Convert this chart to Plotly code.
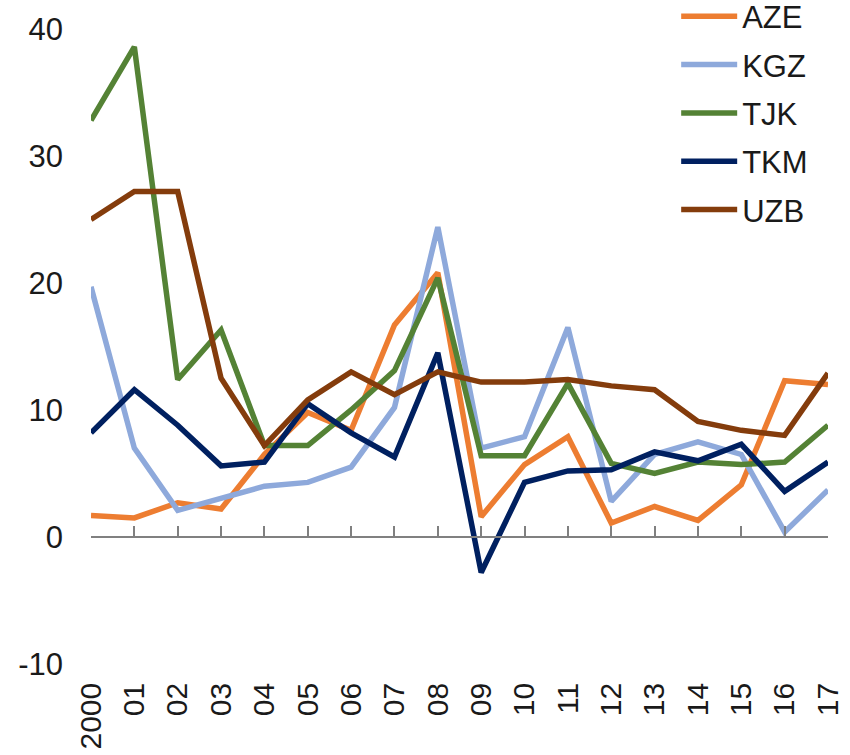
import plotly.graph_objects as go

years = ["2000", "01", "02", "03", "04", "05", "06", "07", "08",
         "09", "10", "11", "12", "13", "14", "15", "16", "17"]

aze = [1.7, 1.5, 2.7, 2.2, 6.5, 9.8, 8.4, 16.7, 20.8, 1.6, 5.7, 7.9, 1.1, 2.4, 1.3, 4.1, 12.3, 12.0]
kgz = [19.7, 7.0, 2.1, 3.1, 4.0, 4.3, 5.5, 10.2, 24.4, 7.0, 7.9, 16.5, 2.8, 6.5, 7.5, 6.5, 0.4, 3.7]
tjk = [32.8, 38.6, 12.4, 16.3, 7.2, 7.2, 10.0, 13.1, 20.4, 6.4, 6.4, 12.1, 5.8, 5.0, 5.9, 5.7, 5.9, 8.8]
tkm = [8.2, 11.6, 8.8, 5.6, 5.9, 10.5, 8.2, 6.3, 14.5, -2.8, 4.3, 5.2, 5.3, 6.7, 6.0, 7.3, 3.6, 5.9]
uzb = [25.0, 27.2, 27.2, 12.5, 7.2, 10.8, 13.0, 11.2, 13.0, 12.2, 12.2, 12.4, 11.9, 11.6, 9.1, 8.4, 8.0, 12.9]

y_ticks = [-10, 0, 10, 20, 30, 40]
y_tick_text = ["-10", "0", "10", "20", "30", "40"]

series = [
    ("AZE", aze, "#ED7D31"),
    ("KGZ", kgz, "#8EA9DB"),
    ("TJK", tjk, "#548235"),
    ("TKM", tkm, "#002060"),
    ("UZB", uzb, "#843C0C"),
]

FONT = "Liberation Sans, Arial, sans-serif"

fig = go.Figure()
for name, vals, color in series:
    fig.add_trace(go.Scatter(
        x=years, y=vals, name=name, mode="lines",
        line=dict(color=color, width=5.5),
        legendgroup=name,
    ))

fig.update_layout(
    width=850, height=755,
    margin=dict(l=91, r=22, t=29, b=91, autoexpand=False),
    plot_bgcolor="white", paper_bgcolor="white",
    font=dict(family=FONT, size=31, color="#1a1a1a"),
    showlegend=True,
    legend=dict(
        x=0.794, y=1.062, xanchor="left", yanchor="top",
        bgcolor="rgba(0,0,0,0)", font=dict(size=31),
        tracegroupgap=5, itemwidth=56,
    ),
    xaxis=dict(
        type="category", range=[0, 17],
        anchor="free", position=0.2,
        showline=True, linecolor="#808080", linewidth=1.5,
        ticks="inside", ticklen=10, tickcolor="#808080", tickwidth=1.5,
        tickangle=-90, ticklabelstandoff=133,
        tickfont=dict(size=30),
        showgrid=False, zeroline=False, automargin=False,
    ),
    yaxis=dict(
        range=[-10, 40], tickvals=y_ticks, ticktext=y_tick_text,
        showline=False, ticks="", showgrid=False, zeroline=False,
        ticklabelstandoff=27, automargin=False,
    ),
)

fig.write_html("out.html")
